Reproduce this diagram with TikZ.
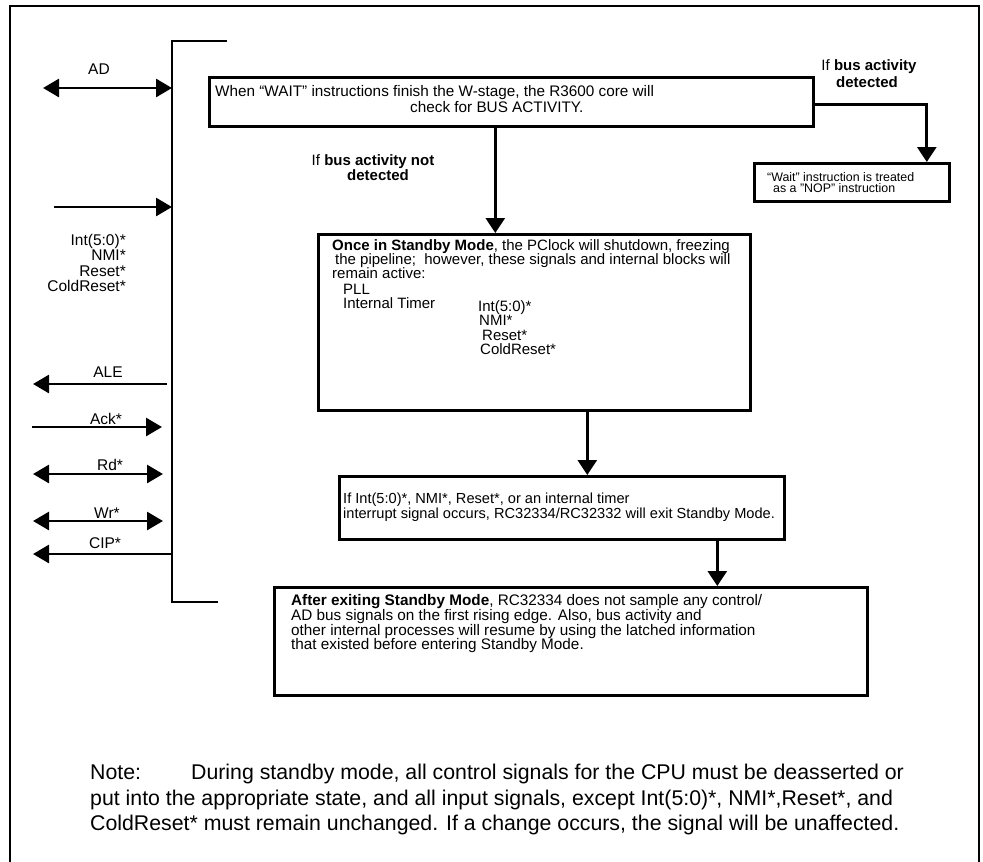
\documentclass[tikz,border=0pt]{standalone}
\usepackage{fontspec}
\setmainfont{Liberation Sans}
\usetikzlibrary{arrows.meta,positioning}
\tikzset{
  panel/.style={draw,line width=2.6bp,anchor=north west,inner sep=0pt},
  wire/.style={line width=2.8bp},
  sig/.style={line width=2.8bp,>={Triangle[length=16bp,width=18bp]}},
  flow/.style={-{Triangle[length=15bp,width=19bp]},line width=2.8bp},
  lbl/.style={inner sep=0pt,font=\fontsize{15.5bp}{17bp}\selectfont},
  boxtxt/.style={inner sep=0pt,anchor=base west,font=\fontsize{#1bp}{#1bp}\selectfont},
  boxtxt/.default=15.3,
}

\begin{document}
\begin{tikzpicture}[x=1bp,y=-1bp]
  \useasboundingbox (0,0) rectangle (983,862);
  \draw[line width=2bp] (10,862) -- (10,6) -- (979,6) -- (979,862);

  \coordinate (bustop) at (172,41);
  \coordinate (busbot) at (172,602);
  \draw[wire] (227,41) -- (bustop) -- (busbot) -- (218,602);

  \coordinate (ad) at (43,88);
  \draw[sig,<->] (ad) -- (ad -| bustop);
  \node[lbl,anchor=base] (adlbl) at (99,74.6) {AD};
  \coordinate (intin) at (54,207);
  \draw[sig,->] (intin) -- (intin -| bustop);
  \foreach \y/\t in {245/{Int(5:0)*},260.5/{NMI*},276/{Reset*},291.5/{ColdReset*}}{
    \node[lbl,anchor=base east] (in\y) at (126,\y) {\t};
  }
  \coordinate (ale) at (33,384);
  \draw[sig,<-] (ale) -- ([xshift=-5bp]ale -| bustop);
  \node[lbl,anchor=base] (alelbl) at (108,377.6) {ALE};
  \coordinate (ack) at (32,427);
  \draw[sig,->] (ack) -- ([xshift=-10bp]ack -| bustop);
  \node[lbl,anchor=base] (acklbl) at (106,424) {Ack*};
  \coordinate (rd) at (33,474);
  \draw[sig,<->] (rd) -- ([xshift=-9bp]rd -| bustop);
  \node[lbl,anchor=base] (rdlbl) at (110,470.6) {Rd*};
  \coordinate (wr) at (33,521);
  \draw[sig,<->] (wr) -- ([xshift=-9bp]wr -| bustop);
  \node[lbl,anchor=base] (wrlbl) at (107,518) {Wr*};
  \coordinate (cip) at (33,554);
  \draw[sig,<-] (cip) -- (cip -| bustop);
  \node[lbl,anchor=base] (ciplbl) at (105,548.6) {CIP*};

  \node[panel,minimum width=604bp,minimum height=49bp] (wait) at (208,76) {};
  \node[boxtxt] (wait1) at (215,96.5) {When “WAIT” instructions finish the W-stage, the R3600 core will};
  \node[boxtxt] (wait2) at (410,112.5) {check for BUS ACTIVITY.};

  \node[panel,minimum width=195bp,minimum height=38bp] (nop) at (753,162) {};
  \node[boxtxt=12.4] (nop1) at (767,181.5) {“Wait” instruction is treated};
  \node[boxtxt=12.4] (nop2) at (773,192.5) {as a "NOP" instruction};

  \node[panel,minimum width=432bp,minimum height=176bp] (standby) at (317,233) {};
  \foreach \y/\x/\t in {
    250.5/332/{\textbf{Once in Standby Mode}, the PClock will shutdown, freezing},
    264.7/335/{the pipeline;\ \ however, these signals and internal blocks will},
    278.9/332/{remain active:},
    294.5/343/{PLL},
    308.7/343/{Internal Timer},
    311/478/{Int(5:0)*},
    325.5/479/{NMI*},
    340/482/{Reset*},
    354.5/480/{ColdReset*}
  }{
    \node[boxtxt=15] (sb\y) at (\x,\y) {\t};
  }

  \node[panel,minimum width=445bp,minimum height=63bp] (intr) at (338,475) {};
  \node[boxtxt=14.6] (intr1) at (343,503.5) {If Int(5:0)*, NMI*, Reset*, or an internal timer};
  \node[boxtxt=14.6] (intr2) at (343,518.5) {interrupt signal occurs, RC32334/RC32332 will exit Standby Mode.};

  \node[panel,minimum width=593bp,minimum height=108bp] (after) at (273,586) {};
  \foreach \y/\t in {
    605.5/{\textbf{After exiting Standby Mode}, RC32334 does not sample any control/},
    620.3/{AD bus signals on the first rising edge. Also, bus activity and},
    635.1/{other internal processes will resume by using the latched information},
    649.9/{that existed before entering Standby Mode.}
  }{
    \node[boxtxt] (af\y) at (291,\y) {\t};
  }

  \draw[flow] ([yshift=-3bp]wait.east) -| ([xshift=75bp]nop.north);
  \node[boxtxt=15,anchor=base] (busyes1) at (869,70) {If \textbf{bus activity}};
  \node[boxtxt=15,anchor=base] (busyes2) at (867,87) {\textbf{detected}};
  \draw[flow] ([xshift=-16bp]wait.south) -- ([xshift=-16bp]wait.south |- standby.north);
  \node[boxtxt=15,anchor=base] (busno1) at (373,165.4) {If \textbf{bus activity not}};
  \node[boxtxt=15,anchor=base] (busno2) at (378,180.4) {\textbf{detected}};
  \draw[flow] ([xshift=53bp]standby.south) -- ([xshift=53bp]standby.south |- intr.north);
  \draw[flow] ([xshift=155.5bp]intr.south) -- ([xshift=155.5bp]intr.south |- after.north);

  \foreach \y/\t in {
    779/{\makebox[101bp][l]{Note:}During standby mode, all control signals for the CPU must be deasserted or},
    805/{put into the appropriate state, and all input signals, except Int(5:0)*, NMI*,Reset*, and},
    830/{ColdReset* must remain unchanged. If a change occurs, the signal will be unaffected.}
  }{
    \node[boxtxt=21.3] (note\y) at (90,\y) {\t};
  }
\end{tikzpicture}
\end{document}
